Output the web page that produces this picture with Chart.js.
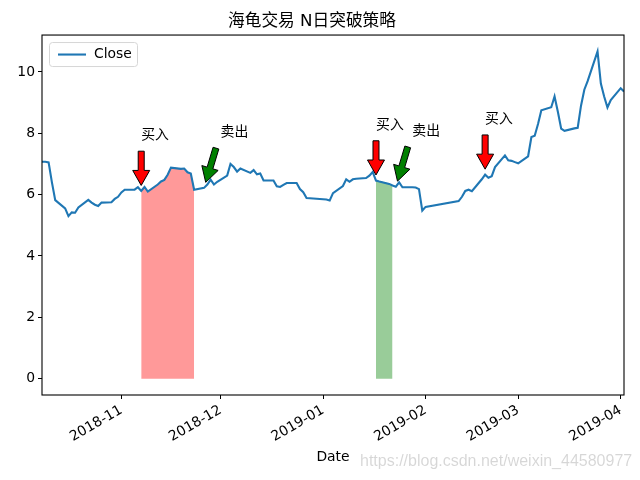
<!DOCTYPE html>
<html>
<head>
<meta charset="utf-8">
<script src="https://cdn.jsdelivr.net/npm/chart.js@4.4.0/dist/chart.umd.min.js"></script>
<style>
  html, body { margin: 0; padding: 0; background: #fff; }
</style>
</head>
<body>
<canvas id="chart" width="640" height="480"></canvas>
<script>
// Trading days and close prices
const dates = [
    '2018-10-08', '2018-10-09', '2018-10-10', '2018-10-11', '2018-10-12', '2018-10-15', '2018-10-16',
    '2018-10-17', '2018-10-18', '2018-10-19', '2018-10-22', '2018-10-23', '2018-10-24', '2018-10-25',
    '2018-10-26', '2018-10-29', '2018-10-30', '2018-10-31', '2018-11-01', '2018-11-02', '2018-11-05',
    '2018-11-06', '2018-11-07', '2018-11-08', '2018-11-09', '2018-11-12', '2018-11-13', '2018-11-14',
    '2018-11-15', '2018-11-16', '2018-11-19', '2018-11-20', '2018-11-21', '2018-11-22', '2018-11-23',
    '2018-11-26', '2018-11-27', '2018-11-28', '2018-11-29', '2018-11-30', '2018-12-03', '2018-12-04',
    '2018-12-05', '2018-12-06', '2018-12-07', '2018-12-10', '2018-12-11', '2018-12-12', '2018-12-13',
    '2018-12-14', '2018-12-17', '2018-12-18', '2018-12-19', '2018-12-20', '2018-12-21', '2018-12-24',
    '2018-12-25', '2018-12-26', '2018-12-27', '2018-12-28', '2019-01-02', '2019-01-03', '2019-01-04',
    '2019-01-07', '2019-01-08', '2019-01-09', '2019-01-10', '2019-01-11', '2019-01-14', '2019-01-15',
    '2019-01-16', '2019-01-17', '2019-01-18', '2019-01-21', '2019-01-22', '2019-01-23', '2019-01-24',
    '2019-01-25', '2019-01-28', '2019-01-29', '2019-01-30', '2019-01-31', '2019-02-01', '2019-02-11',
    '2019-02-12', '2019-02-13', '2019-02-14', '2019-02-15', '2019-02-18', '2019-02-19', '2019-02-20',
    '2019-02-21', '2019-02-22', '2019-02-25', '2019-02-26', '2019-02-27', '2019-02-28', '2019-03-01',
    '2019-03-04', '2019-03-05', '2019-03-06', '2019-03-07', '2019-03-08', '2019-03-11', '2019-03-12',
    '2019-03-13', '2019-03-14', '2019-03-15', '2019-03-18', '2019-03-19', '2019-03-20', '2019-03-21',
    '2019-03-22', '2019-03-25', '2019-03-26', '2019-03-27', '2019-03-28', '2019-03-29', '2019-04-01',
    '2019-04-02'
];
const closes = [
    7.07, 7.07, 7.05, 6.40, 5.82, 5.55, 5.30,
    5.42, 5.41, 5.58, 5.83, 5.74, 5.67, 5.63,
    5.74, 5.75, 5.86, 5.93, 6.07, 6.16, 6.16,
    6.24, 6.12, 6.25, 6.10, 6.33, 6.43, 6.48,
    6.65, 6.88, 6.84, 6.85, 6.73, 6.69, 6.16,
    6.22, 6.33, 6.49, 6.33, 6.42, 6.62, 7.00,
    6.90, 6.75, 6.85, 6.71, 6.80, 6.66, 6.69,
    6.46, 6.46, 6.27, 6.25, 6.32, 6.38, 6.38,
    6.18, 6.08, 5.89, 5.88, 5.84, 5.81, 6.05,
    6.28, 6.50, 6.42, 6.50, 6.52, 6.54, 6.62,
    6.74, 6.46, 6.43, 6.35, 6.30, 6.26, 6.40,
    6.24, 6.24, 6.23, 6.18, 5.48, 5.60, 5.79,
    5.93, 6.12, 6.16, 6.11, 6.50, 6.65, 6.55,
    6.60, 6.90, 7.28, 7.12, 7.10, 7.06, 7.02,
    7.25, 7.88, 7.92, 8.30, 8.75, 8.85, 9.20,
    8.70, 8.15, 8.08, 8.16, 8.18, 8.90, 9.42,
    9.70, 10.67, 9.62, 9.20, 8.84, 9.08, 9.47,
    9.36
];

const buyDates = ['2018-11-07', '2019-01-17', '2019-02-19'];
const sellDates = ['2018-11-26', '2019-01-23'];

const monthTicks = ['2018-11-01', '2018-12-01', '2019-01-01', '2019-02-01', '2019-03-01', '2019-04-01'];
const monthLabels = ['2018-11', '2018-12', '2019-01', '2019-02', '2019-03', '2019-04'];
const yTicks = [0, 2, 4, 6, 8, 10];

const titleText = '海龟交易 N日突破策略';
const buyText = '买入';
const sellText = '卖出';
const watermark = 'https://blog.csdn.net/weixin_44580977';

const FONT = "'DejaVu Sans', 'Noto Sans CJK SC', sans-serif";

function day(s) {
    const p = s.split('-').map(Number);
    return Date.UTC(p[0], p[1] - 1, p[2]) / 86400000;
}

const xs = dates.map(day);
const linePoints = xs.map((x, i) => ({ x: x, y: closes[i] }));
const yMax = Math.max(...closes);

// Holding periods: from buy day up to the day before the sell
const fillSets = sellDates.map((sd, k) => {
    const b = dates.indexOf(buyDates[k]);
    const s = dates.indexOf(sd);
    const pts = [];
    for (let i = b; i < s; i++) pts.push({ x: xs[i], y: closes[i] });
    const win = closes[s] > closes[b];
    const col = win ? 'rgba(255, 0, 0, 0.4)' : 'rgba(0, 128, 0, 0.4)';
    return {
        data: pts,
        borderColor: col,
        backgroundColor: col,
        borderWidth: 1,
        pointRadius: 0,
        fill: 'origin',
        tension: 0,
        order: 1
    };
});

function drawArrow(ctx, tx, ty, px, py, color) {
    const dx = px - tx, dy = py - ty;
    const len = Math.sqrt(dx * dx + dy * dy);
    const ux = dx / len, uy = dy / len;
    const nx = -uy, ny = ux;
    const w = 3, hw = 8.5, hl = 15;
    const bx = px - ux * hl, by = py - uy * hl;
    ctx.beginPath();
    ctx.moveTo(tx + nx * w, ty + ny * w);
    ctx.lineTo(bx + nx * w, by + ny * w);
    ctx.lineTo(bx + nx * hw, by + ny * hw);
    ctx.lineTo(px, py);
    ctx.lineTo(bx - nx * hw, by - ny * hw);
    ctx.lineTo(bx - nx * w, by - ny * w);
    ctx.lineTo(tx - nx * w, ty - ny * w);
    ctx.closePath();
    ctx.fillStyle = color;
    ctx.fill();
    ctx.lineWidth = 1;
    ctx.strokeStyle = '#000';
    ctx.stroke();
}

const extras = {
    id: 'extras',
    afterDraw(chart) {
        const ctx = chart.ctx;
        const a = chart.chartArea;
        const xS = chart.scales.x, yS = chart.scales.y;
        ctx.save();

        // signals
        const marks = buyDates.map(d => ({ d: d, text: buyText, color: 'red', dx: 0 }))
            .concat(sellDates.map(d => ({ d: d, text: sellText, color: 'green', dx: 5 })));
        ctx.font = '13.9px ' + FONT;
        ctx.textBaseline = 'middle';
        ctx.textAlign = 'left';
        marks.forEach(m => {
            const i = dates.indexOf(m.d);
            const px = xS.getPixelForValue(xs[i]);
            const py = yS.getPixelForValue(closes[i]);
            const ax = xS.getPixelForValue(xs[i] + m.dx);
            const ay = yS.getPixelForValue(closes[i] + 1.8);
            ctx.fillStyle = '#000';
            ctx.fillText(m.text, ax, ay);
            drawArrow(ctx,
                ax + (px - ax) * 0.28, ay + (py - ay) * 0.28,
                ax + (px - ax) * 0.9, ay + (py - ay) * 0.9,
                m.color);
        });

        // legend
        const lx = a.left + 7, ly = a.top + 7;
        ctx.beginPath();
        ctx.roundRect(lx + 0.5, ly + 0.5, 88, 24, 3);
        ctx.fillStyle = 'rgba(255,255,255,0.8)';
        ctx.fill();
        ctx.strokeStyle = '#d6d6d6';
        ctx.lineWidth = 1;
        ctx.stroke();
        ctx.beginPath();
        ctx.moveTo(lx + 9, ly + 12.5);
        ctx.lineTo(lx + 37, ly + 12.5);
        ctx.strokeStyle = '#1f77b4';
        ctx.lineWidth = 2.1;
        ctx.stroke();
        ctx.fillStyle = '#000';
        ctx.fillText('Close', lx + 45, ly + 12.5);

        // frame
        ctx.strokeStyle = '#000';
        ctx.lineWidth = 1.1;
        ctx.strokeRect(a.left, a.top, a.right - a.left, a.bottom - a.top);

        // watermark
        ctx.font = "16px 'Liberation Sans', sans-serif";
        ctx.fillStyle = 'rgba(0,0,0,0.16)';
        ctx.fillText(watermark, 360, 462);
        ctx.restore();
    }
};

new Chart(document.getElementById('chart'), {
    type: 'line',
    data: {
        datasets: [{
            label: 'Close',
            data: linePoints,
            borderColor: '#1f77b4',
            borderWidth: 2.1,
            pointRadius: 0,
            tension: 0,
            fill: false,
            order: 0
        }].concat(fillSets)
    },
    options: {
        responsive: false,
        animation: false,
        devicePixelRatio: 1,
        layout: { padding: { left: 0, right: 16, top: 0, bottom: 0 } },
        plugins: {
            legend: { display: false },
            tooltip: { enabled: false },
            title: {
                display: true,
                text: titleText,
                color: '#000',
                font: { size: 16.7, family: FONT, weight: 'normal' },
                padding: { top: 12, bottom: 3 }
            }
        },
        scales: {
            x: {
                type: 'linear',
                min: xs[0],
                max: xs[xs.length - 1],
                afterBuildTicks: s => { s.ticks = monthTicks.map(t => ({ value: day(t) })); },
                afterFit: s => { s.height = 85; s.paddingLeft = 0; s.paddingRight = 0; },
                grid: { drawOnChartArea: false, drawTicks: true, tickLength: 4, color: '#000' },
                border: { display: false },
                ticks: {
                    autoSkip: false,
                    minRotation: 30,
                    maxRotation: 30,
                    padding: 3,
                    color: '#000',
                    font: { size: 13.9, family: FONT },
                    callback: v => monthLabels[monthTicks.map(day).indexOf(v)]
                },
                title: {
                    display: true,
                    text: 'Date',
                    color: '#000',
                    font: { size: 13.9, family: FONT },
                    padding: { top: 0, bottom: 14.5 }
                }
            },
            y: {
                min: -0.05 * yMax,
                max: yMax * 1.05,
                afterBuildTicks: s => { s.ticks = yTicks.map(v => ({ value: v })); },
                afterFit: s => { s.width = 42; s.paddingTop = 0; s.paddingBottom = 0; },
                grid: { drawOnChartArea: false, drawTicks: true, tickLength: 4, color: '#000' },
                border: { display: false },
                ticks: {
                    padding: 3,
                    color: '#000',
                    font: { size: 13.9, family: FONT }
                }
            }
        }
    },
    plugins: [extras]
});
</script>
</body>
</html>
